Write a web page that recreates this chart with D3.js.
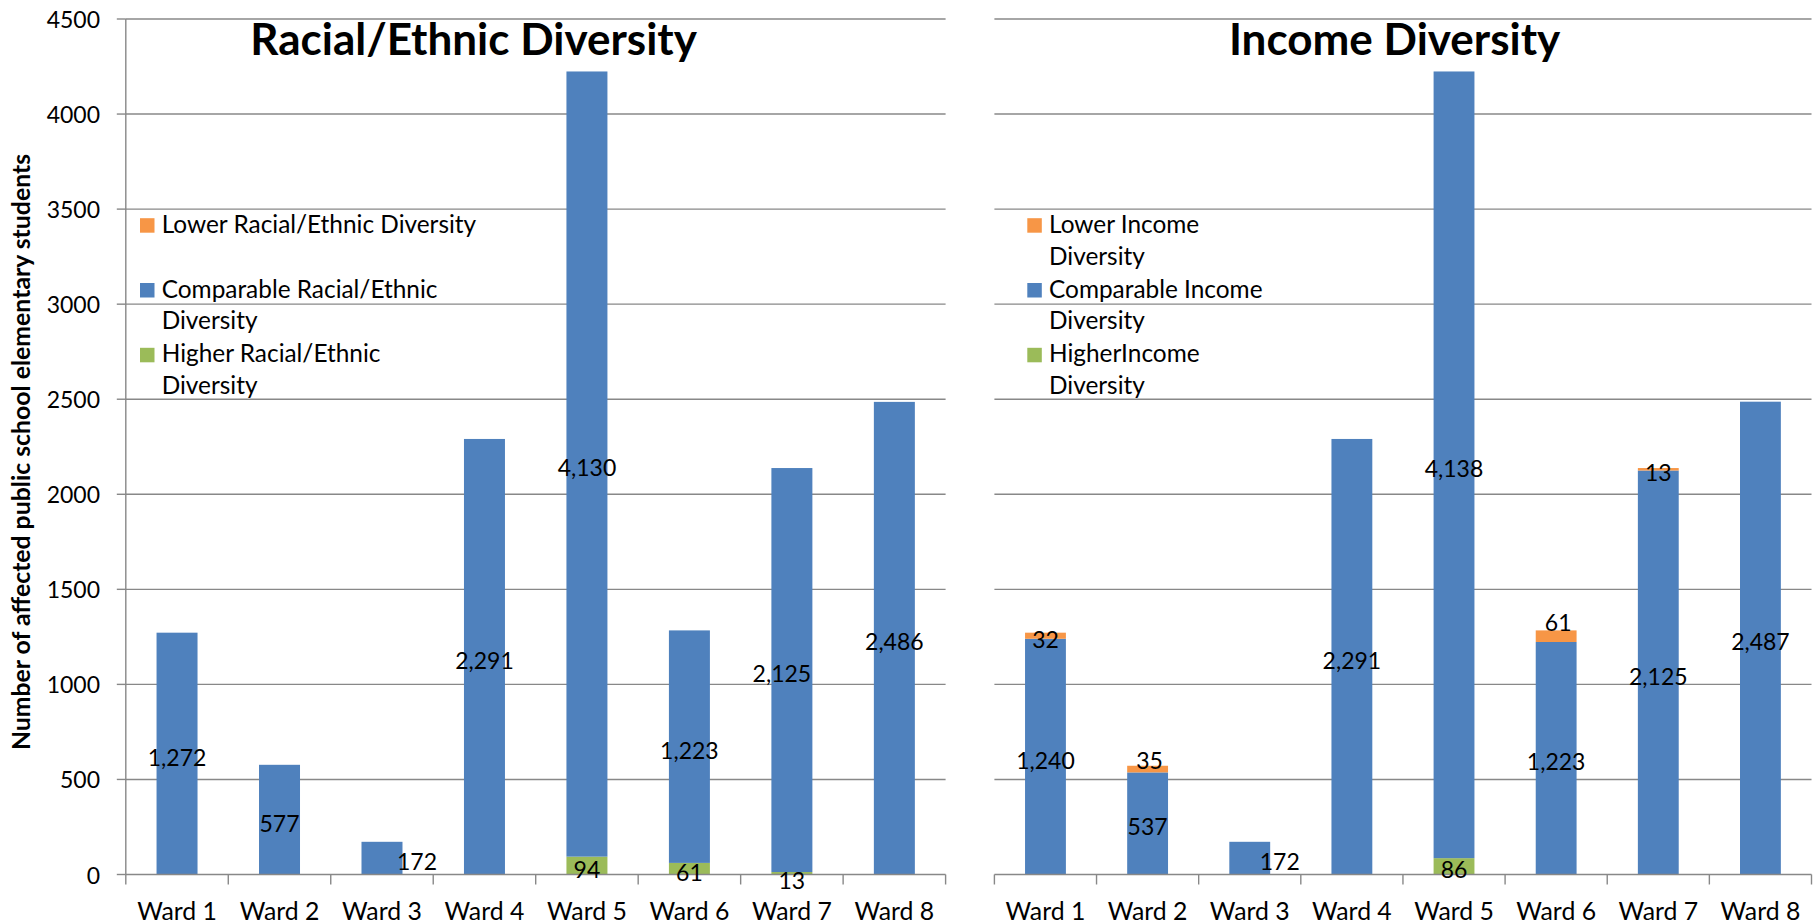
<!DOCTYPE html>
<html>
<head>
<meta charset="utf-8">
<script src="https://cdn.jsdelivr.net/npm/d3@7"></script>
<style>
  html, body { margin: 0; padding: 0; background: #fff; }
  svg { display: block; }
  text { font-family: Lato, "Open Sans", "Liberation Sans", sans-serif; fill: #000; }
</style>
</head>
<body>
<svg id="chart" width="1816" height="924"></svg>
<script>
// ---------- data ----------
const wards = ["Ward 1", "Ward 2", "Ward 3", "Ward 4", "Ward 5", "Ward 6", "Ward 7", "Ward 8"];
const yTicks = [0, 500, 1000, 1500, 2000, 2500, 3000, 3500, 4000, 4500];

const raceLower      = [0, 0, 0, 0, 0, 0, 0, 0];
const raceComparable = [1272, 577, 172, 2291, 4130, 1223, 2125, 2486];
const raceHigher     = [0, 0, 0, 0, 94, 61, 13, 0];

const incomeLower      = [32, 35, 0, 0, 0, 61, 13, 0];
const incomeComparable = [1240, 537, 172, 2291, 4138, 1223, 2125, 2487];
const incomeHigher     = [0, 0, 0, 0, 86, 0, 0, 0];

const raceTitle = "Racial/Ethnic Diversity";
const incomeTitle = "Income Diversity";
const yAxisTitle = "Number of affected public school elementary students";

const raceLegend = [
  ["Lower Racial/Ethnic Diversity"],
  ["Comparable Racial/Ethnic", "Diversity"],
  ["Higher Racial/Ethnic", "Diversity"]
];
const incomeLegend = [
  ["Lower Income", "Diversity"],
  ["Comparable Income", "Diversity"],
  ["HigherIncome", "Diversity"]
];

// ---------- styling ----------
const colors = { lower: "#F79646", comparable: "#4F81BD", higher: "#9BBB59" };
const gridColor = "#888888";
const svg = d3.select("#chart");
const FS = 23;        // tick & data labels
const FS_CAT = 24.8;  // category labels
const FS_LEG = 24.4;  // legend

const y = d3.scaleLinear().domain([0, 4500]).range([874.5, 19]);

// small label nudges (pixels) reproducing the reference's manual label placement
const nudges = {
  "race-comparable-2": { dx: 35, dy: 0 },
  "race-comparable-6": { dx: -10, dy: 0 },
  "race-higher-6": { dx: 0, dy: 4 },
  "income-comparable-2": { dx: 30, dy: 0 },
  "income-lower-1": { dx: 2, dy: -12 },
  "income-lower-5": { dx: 2, dy: -17 }
};

function panel(opts) {
  const { id, x0, x1, lower, comparable, higher, showYAxis, title, titleX, legend, legendX } = opts;
  const g = svg.append("g");
  const x = d3.scaleBand().domain(wards).range([x0, x1]).paddingInner(0.6).paddingOuter(0.3);
  const step = x.step();

  // gridlines
  g.selectAll("line.grid").data(yTicks.filter(t => t > 0)).enter().append("line")
    .attr("x1", x0).attr("x2", x1)
    .attr("y1", d => y(d)).attr("y2", d => y(d))
    .attr("stroke", gridColor).attr("stroke-width", 1.4);

  // y axis
  if (showYAxis) {
    g.append("line").attr("x1", x0).attr("x2", x0).attr("y1", y(4500)).attr("y2", y(0))
      .attr("stroke", gridColor).attr("stroke-width", 1.4);
    g.selectAll("line.yt").data(yTicks).enter().append("line")
      .attr("x1", x0 - 9).attr("x2", x0)
      .attr("y1", d => y(d)).attr("y2", d => y(d))
      .attr("stroke", gridColor).attr("stroke-width", 1.4);
    g.selectAll("text.yl").data(yTicks).enter().append("text")
      .attr("x", 100).attr("y", d => y(d))
      .attr("text-anchor", "end").attr("dominant-baseline", "central")
      .style("font-size", FS + "px")
      .text(d => d);
  }

  // stacked bars
  const rows = wards.map((w, i) => ({ ward: w, higher: higher[i], comparable: comparable[i], lower: lower[i] }));
  const keys = ["higher", "comparable", "lower"];
  const stacked = d3.stack().keys(keys)(rows);
  stacked.forEach(layer => {
    g.selectAll(null).data(layer).enter().append("rect")
      .attr("x", d => x(d.data.ward))
      .attr("width", x.bandwidth())
      .attr("y", d => y(d[1]))
      .attr("height", d => y(d[0]) - y(d[1]))
      .attr("fill", colors[layer.key]);
  });

  // x axis
  g.append("line").attr("x1", x0).attr("x2", x1).attr("y1", y(0)).attr("y2", y(0))
    .attr("stroke", gridColor).attr("stroke-width", 1.4);
  const tickXs = d3.range(wards.length + 1).map(i => x0 + i * step);
  g.selectAll(null).data(tickXs).enter().append("line")
    .attr("x1", d => d).attr("x2", d => d).attr("y1", y(0)).attr("y2", y(0) + 10)
    .attr("stroke", gridColor).attr("stroke-width", 1.4);
  g.selectAll(null).data(wards).enter().append("text")
    .attr("x", d => x(d) + x.bandwidth() / 2).attr("y", 920)
    .attr("text-anchor", "middle")
    .style("font-size", FS_CAT + "px")
    .text(d => d);

  // data labels
  stacked.forEach(layer => {
    g.selectAll(null).data(layer.filter(d => d[1] - d[0] > 0)).enter().append("text")
      .attr("x", d => {
        const i = wards.indexOf(d.data.ward);
        const n = nudges[id + "-" + layer.key + "-" + i];
        return x(d.data.ward) + x.bandwidth() / 2 + (n ? n.dx : 0);
      })
      .attr("y", d => {
        const i = wards.indexOf(d.data.ward);
        const n = nudges[id + "-" + layer.key + "-" + i];
        return y((d[0] + d[1]) / 2) + 3 + (n ? n.dy : 0);
      })
      .attr("text-anchor", "middle").attr("dominant-baseline", "central")
      .style("font-size", FS + "px")
      .text(d => d3.format(",")(d[1] - d[0]));
  });

  // title
  g.append("text").attr("x", titleX).attr("y", 55)
    .attr("text-anchor", "middle")
    .style("font-size", "44px").style("font-weight", "bold")
    .text(title);

  // legend
  const legendKeys = ["lower", "comparable", "higher"];
  legend.forEach((lines, i) => {
    const base = 232.7 + i * 2 * 32.4;
    g.append("rect").attr("x", legendX).attr("y", base - 14.5)
      .attr("width", 14.5).attr("height", 14.5).attr("fill", colors[legendKeys[i]]);
    lines.forEach((ln, j) => {
      g.append("text").attr("x", legendX + 21.7).attr("y", base + j * 31.8)
        .style("font-size", FS_LEG + "px").text(ln);
    });
  });
}

panel({ id: "race", x0: 125.8, x1: 945.6, lower: raceLower, comparable: raceComparable, higher: raceHigher,
  showYAxis: true, title: raceTitle, titleX: 473.6, legend: raceLegend, legendX: 140 });
panel({ id: "income", x0: 994.4, x1: 1811.5, lower: incomeLower, comparable: incomeComparable, higher: incomeHigher,
  showYAxis: false, title: incomeTitle, titleX: 1394.6, legend: incomeLegend, legendX: 1027.3 });

// y axis title
svg.append("text")
  .attr("transform", "translate(30,452) rotate(-90)")
  .attr("text-anchor", "middle")
  .style("font-size", "24.8px").style("font-weight", "bold")
  .text(yAxisTitle);
</script>
</body>
</html>
